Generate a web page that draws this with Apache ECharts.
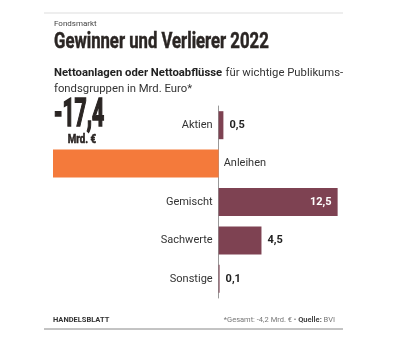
<!DOCTYPE html>
<html><head><meta charset="utf-8">
<script src="https://cdn.jsdelivr.net/npm/echarts@6/dist/echarts.min.js"></script>
<style>html,body{margin:0;padding:0;background:#fff}#c{width:412px;height:337px}</style>
</head><body><div id="c"></div>
<script>
const categories = ['Aktien', 'Anleihen', 'Gemischt', 'Sachwerte', 'Sonstige'];
const values = [0.5, -17.4, 12.5, 4.5, 0.1];
const totalValue = -4.2;
const fmt = v => v.toFixed(1).replace('.', ',');

const MAROON = '#7e4252', ORANGE = '#f47a3b';
const font = 'Roboto, "Liberation Sans", sans-serif';
const chart = echarts.init(document.getElementById('c'));
const data = values.map((v, i) => {
  const item = { value: v, itemStyle: { color: v < 0 ? ORANGE : MAROON } };
  if (v < 0) item.label = { show: false };
  else if (v > 10) item.label = { show: true, position: 'insideRight', distance: 6, color: '#fff' };
  return item;
});
// zero-valued helper bars carry the category names next to the zero line
const nameData = categories.map((c, i) => ({
  value: 0,
  label: { show: true, position: values[i] < 0 ? 'right' : 'left', distance: values[i] < 0 ? 5 : 6,
    formatter: c, fontSize: 11, color: '#333', fontFamily: font }
}));
const baseGraphic = [
  { type: 'line', shape: { x1: 44, y1: 13, x2: 343, y2: 13 }, style: { stroke: '#ddd', lineWidth: 1 } },
  { type: 'text', x: 54, y: 20, style: { text: 'Fondsmarkt', fontSize: 8, fill: '#444', fontFamily: font } },
  { type: 'text', x: 54, y: 31, scaleX: 0.76, style: { text: 'Gewinner und Verlierer 2022', fontSize: 22,
    fontWeight: 'bold', fill: '#2a2523', stroke: '#2a2523', lineWidth: 0.5, fontFamily: font } },
  { type: 'text', x: 54, y: 65, style: { rich: {
      b: { fontSize: 11.3, fontWeight: 'bold', fill: '#222', fontFamily: font, lineHeight: 16 },
      n: { fontSize: 11.3, fill: '#333', fontFamily: font, lineHeight: 16 } },
    text: '{b|Nettoanlagen oder Nettoabflüsse} {n|für wichtige Publikums-}\n{n|fondsgruppen in Mrd. Euro*}' } },
  { type: 'line', shape: { x1: 44, y1: 329, x2: 343, y2: 329 }, style: { stroke: '#888', lineWidth: 1 } },
  { type: 'text', x: 53, y: 316, style: { text: 'HANDELSBLATT', fontSize: 7.5, fontWeight: 'bold', fill: '#333', fontFamily: font } },
  { type: 'text', x: 335, y: 316, style: { align: 'right', rich: {
      n: { fontSize: 7.5, fill: '#777', fontFamily: font },
      b: { fontSize: 7.5, fill: '#444', fontWeight: 'bold', fontFamily: font } },
    text: '{n|*Gesamt: ' + fmt(totalValue) + ' Mrd. € • }{b|Quelle:}{n| BVI}' } }
];
chart.setOption({
  animation: false,
  textStyle: { fontFamily: font },
  grid: { left: 53, width: 307, top: 106, bottom: 39, containLabel: false, outerBoundsMode: 'none' },
  xAxis: { type: 'value', min: -17.4, max: 14.85, show: false },
  yAxis: {
    type: 'category', data: categories, inverse: true,
    axisLine: { show: true, onZero: true, lineStyle: { color: '#999', width: 1 } },
    axisTick: { show: false }, axisLabel: { show: false }
  },
  series: [{
    type: 'bar', data: data, barWidth: 28, barGap: '-100%', z: 3,
    label: { show: true, position: 'right', distance: 6, fontSize: 11, fontWeight: 'bold',
      color: '#222', fontFamily: font, formatter: p => fmt(p.value) }
  }, {
    type: 'bar', data: nameData, barWidth: 28, barGap: '-100%', silent: true,
    itemStyle: { color: 'rgba(0,0,0,0)' }
  }],
  graphic: baseGraphic
});
// big value callout for the negative bar, positioned via the chart scales
const negIdx = values.findIndex(v => v < 0);
const p = chart.convertToPixel({ gridIndex: 0 }, [values[negIdx], negIdx]);
chart.setOption({ graphic: baseGraphic.concat([
  { type: 'text', x: p[0] + 1, y: p[1] - 66, scaleX: 0.56, style: { text: fmt(values[negIdx]), fontSize: 38,
    fontWeight: 'bold', fill: '#2a2523', stroke: '#2a2523', lineWidth: 1.6, fontFamily: font } },
  { type: 'text', x: p[0] + 43, y: p[1] - 30, scaleX: 0.75, style: { text: 'Mrd. €', fontSize: 13, align: 'right',
    fontWeight: 'bold', fill: '#2a2523', stroke: '#2a2523', lineWidth: 0.6, fontFamily: font } }
]) }, { replaceMerge: ['graphic'] });
</script></body></html>
